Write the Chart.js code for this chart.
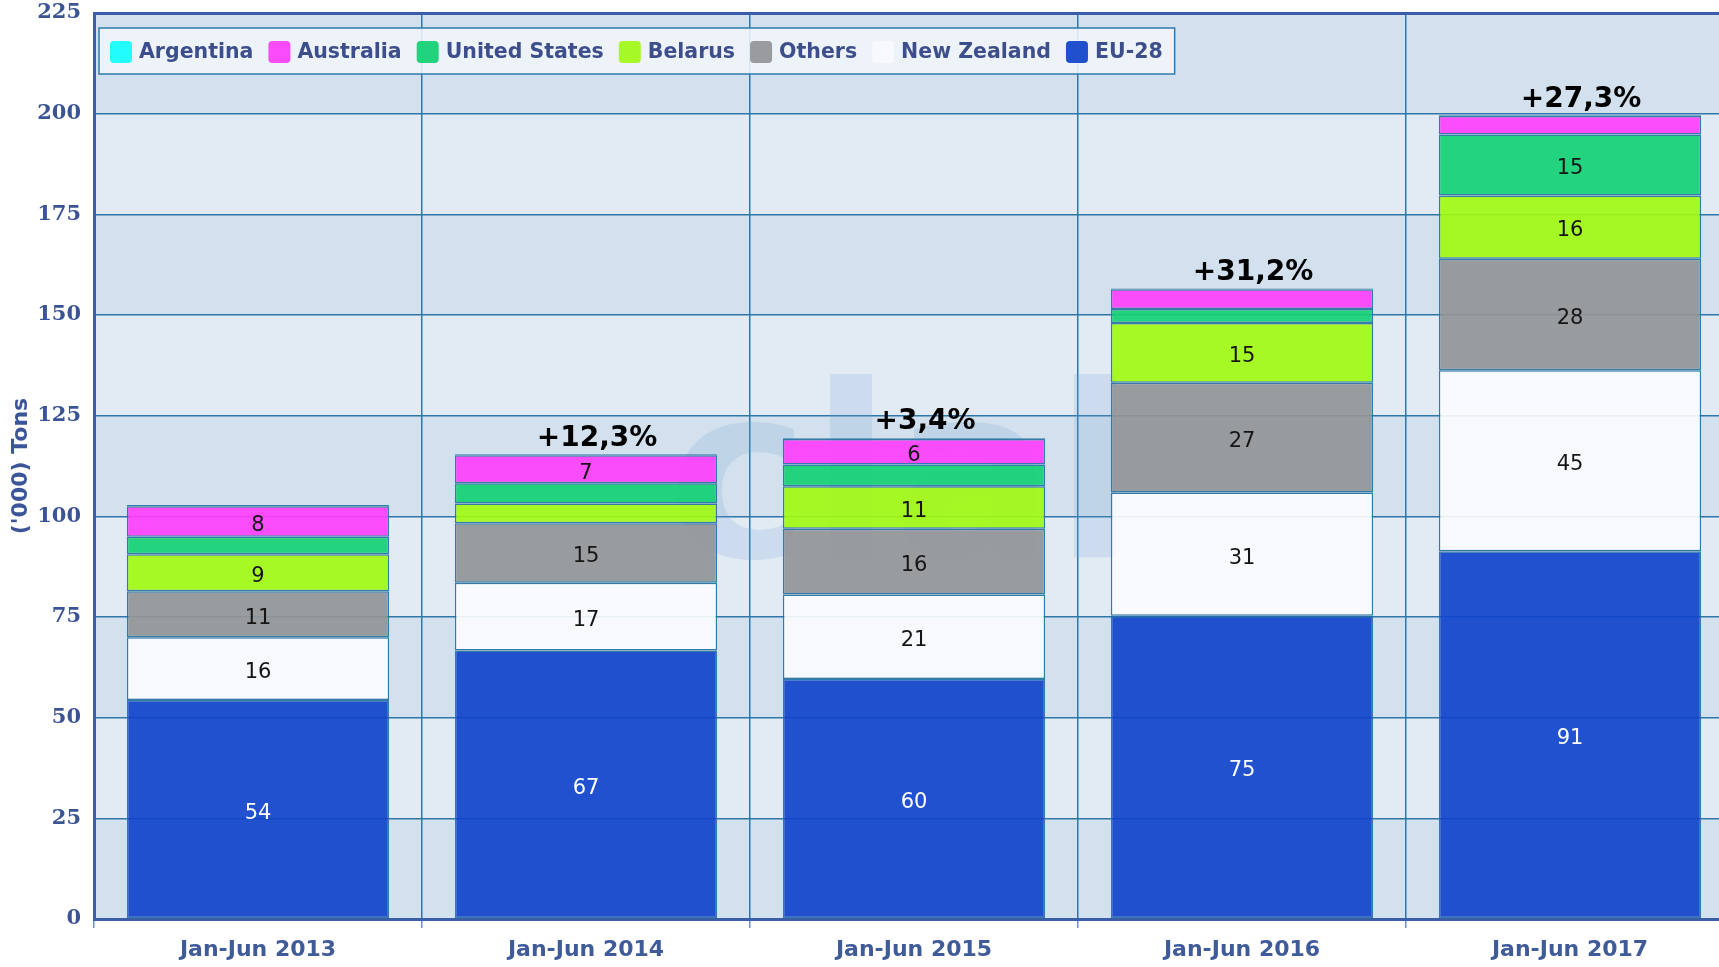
<!DOCTYPE html>
<html>
<head>
<meta charset="utf-8">
<script src="https://cdn.jsdelivr.net/npm/chart.js@4.4.1/dist/chart.umd.min.js"></script>
<style>
  html, body { margin: 0; padding: 0; background: #ffffff; overflow: hidden; }
  #wrap { position: relative; width: 1740px; height: 967px; }
</style>
</head>
<body>
<div id="wrap"><canvas id="c"></canvas></div>
<script>
// Import volumes by origin, thousand tons, first half of each year
const categories = ['Jan-Jun 2013', 'Jan-Jun 2014', 'Jan-Jun 2015', 'Jan-Jun 2016', 'Jan-Jun 2017'];
const eu28         = [54.4, 66.7, 59.6, 75.3, 91.3];
const newZealand   = [15.6, 16.8, 21.0, 30.6, 45.0];
const others       = [11.4, 14.8, 16.3, 27.3, 27.7];
const belarus      = [9.2, 4.9, 10.6, 14.8, 15.7];
const unitedStates = [4.3, 5.0, 5.4, 3.5, 15.1];
const australia    = [7.6, 7.0, 6.3, 4.9, 4.6];
const argentina    = [0.3, 0.2, 0.2, 0.2, 0.2];
// Change of the total versus the previous period
const growthLabels = ['', '+12,3%', '+3,4%', '+31,2%', '+27,3%'];
const yMax = 225;
const yStep = 25;

const segBorder = 'rgba(36,112,158,0.9)';
function series(label, data, color, swatch, labelColor) {
  return {
    label, data,
    backgroundColor: color,
    swatch: swatch,
    labelColor: labelColor || '#151515',
    borderColor: segBorder,
    borderWidth: 1.5,
    borderSkipped: false,
    barPercentage: 0.8,
    categoryPercentage: 1.0
  };
}

// stacked bottom to top
const datasets = [
  series('EU-28', eu28, 'rgba(17,67,204,0.92)', '#2150cf', '#ffffff'),
  series('New Zealand', newZealand, 'rgba(250,251,253,0.92)', '#f7f9fc'),
  series('Others', others, 'rgba(147,149,151,0.92)', '#999b9e'),
  series('Belarus', belarus, 'rgba(162,250,20,0.92)', '#a6f826'),
  series('United States', unitedStates, 'rgba(19,208,115,0.92)', '#23d27d'),
  series('Australia', australia, 'rgba(253,63,251,0.92)', '#fa4cfa'),
  series('Argentina', argentina, 'rgba(18,255,255,0.92)', '#22fcfc')
];

// alternating horizontal bands behind the grid
const bandsPlugin = {
  id: 'bands',
  beforeDraw(chart) {
    const { ctx, chartArea: a, scales: { y } } = chart;
    ctx.save();
    for (let v = 0; v < yMax; v += yStep) {
      const top = y.getPixelForValue(v + yStep);
      const bot = y.getPixelForValue(v);
      ctx.fillStyle = ((v / yStep) % 2 === 0) ? '#d3e1ee' : '#e2eaf4';
      ctx.fillRect(a.left, top, a.right - a.left, bot - top);
    }
    ctx.restore();
  }
};

// faint site mark behind the bars
const markPlugin = {
  id: 'mark',
  beforeDatasetsDraw(chart) {
    const { ctx, chartArea: a } = chart;
    ctx.save();
    ctx.font = 'bold 240px "DejaVu Sans"';
    ctx.textAlign = 'center';
    ctx.textBaseline = 'alphabetic';
    ctx.fillStyle = 'rgba(120,158,212,0.2)';
    ctx.fillText('clal', a.left + 808, a.top + 544);
    ctx.restore();
  }
};

// segment values and growth labels
const labelsPlugin = {
  id: 'labels',
  afterDatasetsDraw(chart) {
    const { ctx } = chart;
    ctx.save();
    ctx.textAlign = 'center';
    ctx.textBaseline = 'middle';
    ctx.font = '21px "DejaVu Sans"';
    chart.data.datasets.forEach((ds, di) => {
      const meta = chart.getDatasetMeta(di);
      meta.data.forEach((bar, i) => {
        const v = ds.data[i];
        if (v < 5.5) return;
        ctx.fillStyle = ds.labelColor;
        ctx.fillText(String(Math.round(v)), bar.x, (bar.y + bar.base) / 2 + 4);
      });
    });
    const topMeta = chart.getDatasetMeta(chart.data.datasets.length - 1);
    ctx.font = 'bold 28px "DejaVu Sans"';
    ctx.fillStyle = '#000000';
    topMeta.data.forEach((bar, i) => {
      const t = growthLabels[i];
      if (!t) return;
      ctx.fillText(t, bar.x + 11, bar.y - 16);
    });
    ctx.restore();
  }
};

// legend box inside the plot area
const legendPlugin = {
  id: 'insideLegend',
  afterDatasetsDraw(chart) {
    const { ctx, chartArea: a } = chart;
    const items = chart.data.datasets.slice().reverse();
    ctx.save();
    ctx.font = 'bold 20.5px "DejaVu Sans"';
    const box = 22, gapText = 7, gapItem = 15;
    const x0 = a.left + 5, y0 = a.top + 15, h = 46;
    let w = 11;
    items.forEach((ds, k) => {
      w += box + gapText + ctx.measureText(ds.label).width + (k < items.length - 1 ? gapItem : 12);
    });
    ctx.fillStyle = 'rgba(241,245,250,0.88)';
    ctx.fillRect(x0, y0, w, h);
    ctx.strokeStyle = '#2e7bac';
    ctx.lineWidth = 1.5;
    ctx.strokeRect(x0, y0, w, h);
    let x = x0 + 11;
    const cy = y0 + h / 2 + 1;
    ctx.textBaseline = 'middle';
    ctx.textAlign = 'left';
    items.forEach(ds => {
      ctx.fillStyle = ds.swatch;
      ctx.beginPath();
      ctx.roundRect(x, cy - box / 2, box, box, 4);
      ctx.fill();
      x += box + gapText;
      ctx.fillStyle = '#3c4e8c';
      ctx.fillText(ds.label, x, cy + 1);
      x += ctx.measureText(ds.label).width + gapItem;
    });
    ctx.restore();
  }
};

new Chart(document.getElementById('c'), {
  type: 'bar',
  data: { labels: categories, datasets },
  plugins: [bandsPlugin, markPlugin, labelsPlugin, legendPlugin],
  options: {
    responsive: true,
    maintainAspectRatio: false,
    animation: false,
    layout: { padding: { top: 13, right: 6, left: 0, bottom: 0 } },
    plugins: { legend: { display: false }, tooltip: { enabled: false } },
    scales: {
      x: {
        stacked: true,
        grid: { offset: true, color: '#2e77a8', lineWidth: 1.5, tickLength: 9, tickColor: '#6d8fc4' },
        border: { display: true, color: '#3a5ea8', width: 3 },
        ticks: { color: '#3f5b9a', font: { family: 'DejaVu Sans', weight: 'bold', size: 22 }, padding: 9, maxRotation: 0 },
        afterFit(s) { s.height = 48; s.paddingLeft = 0; s.paddingRight = 0; }
      },
      y: {
        stacked: true,
        min: 0,
        max: yMax,
        ticks: { stepSize: yStep, color: '#3b5495', font: { family: 'DejaVu Serif', weight: 'bold', size: 21 }, padding: 13 },
        grid: {
          color: c => (c.tick && c.tick.value === yMax) ? '#3a5ea8' : '#2e77a8',
          lineWidth: c => (c.tick && c.tick.value === yMax) ? 3 : 1.5,
          drawTicks: false
        },
        border: { display: true, color: '#3a5ea8', width: 3 },
        title: {
          display: true,
          text: "('000) Tons",
          color: '#3b5598',
          font: { family: 'DejaVu Sans', weight: 'bold', size: 22 },
          padding: { top: 8, bottom: 0 }
        },
        afterFit(s) { s.width = 94; s.paddingTop = 0; s.paddingBottom = 0; }
      }
    }
  }
});
</script>
</body>
</html>
